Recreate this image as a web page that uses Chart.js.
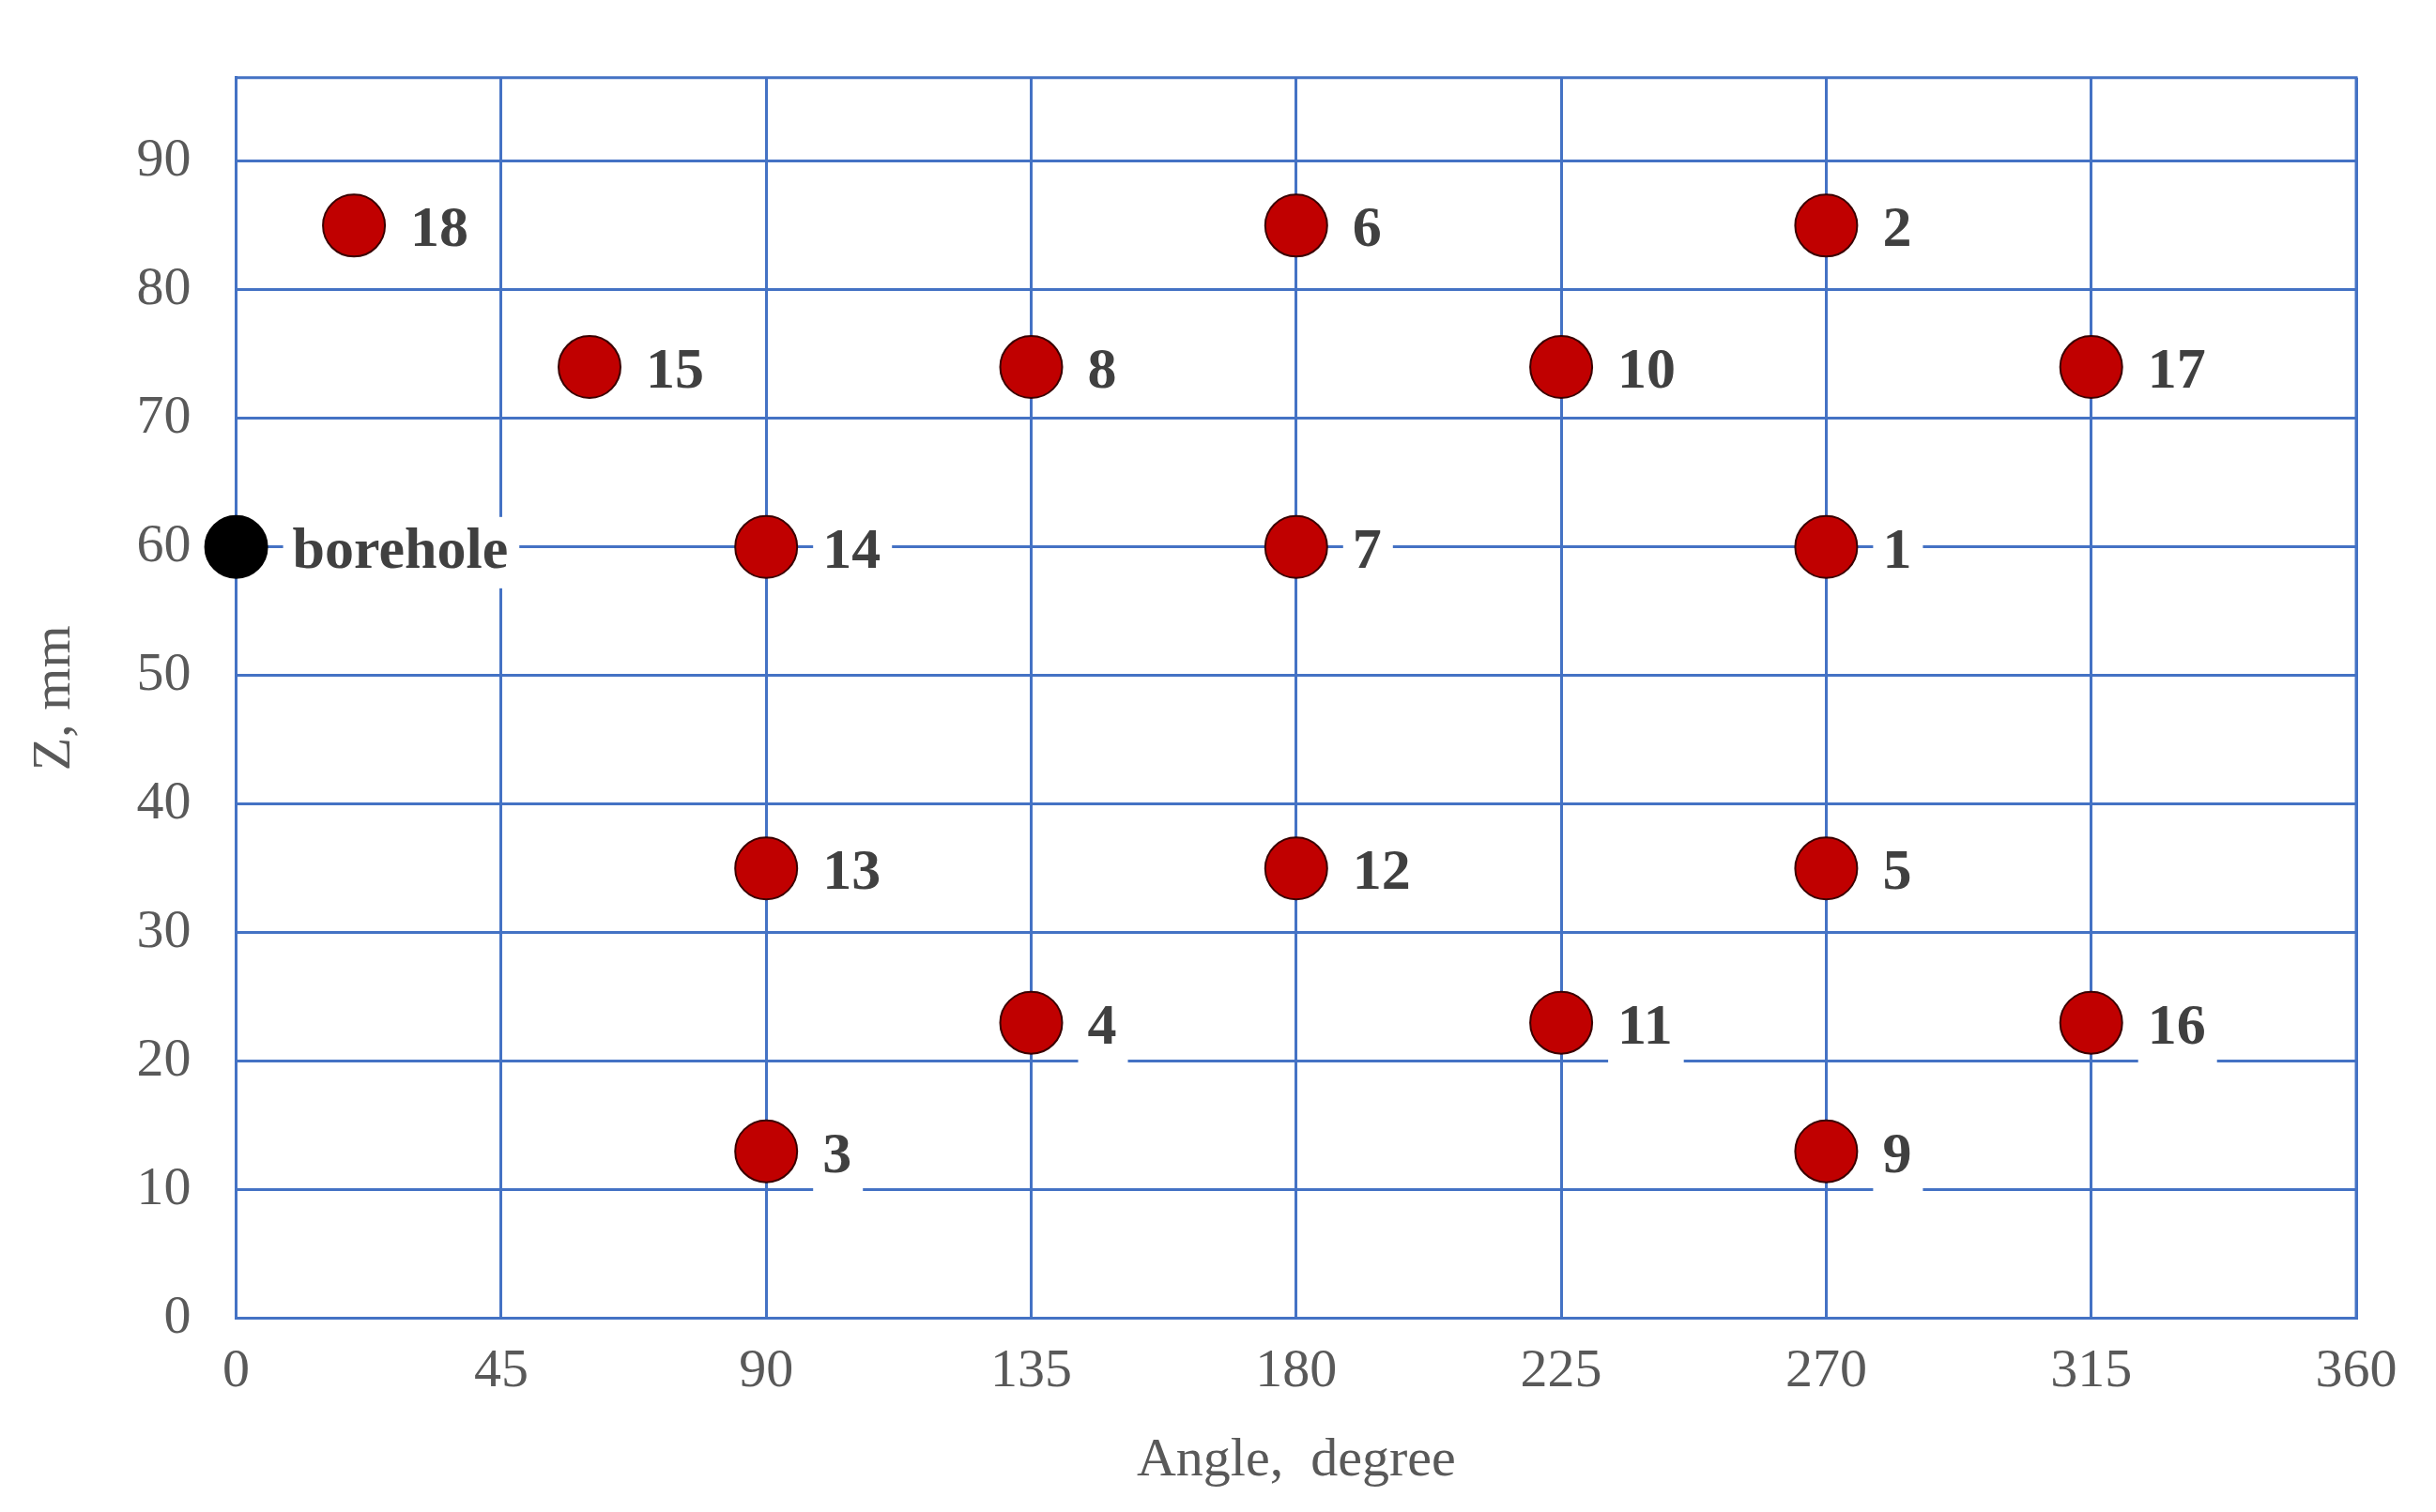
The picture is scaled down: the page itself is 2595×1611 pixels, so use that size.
<!DOCTYPE html>
<html><head><meta charset="utf-8">
<script src="https://cdn.jsdelivr.net/npm/chart.js@4"></script>
<style>html,body{margin:0;padding:0;background:#fff}#w{width:2595px;height:1611px}</style>
</head><body><div id="w"><canvas id="c"></canvas></div>
<script>
const pointLabels = ['18','6','2','15','8','10','17','14','7','1','13','12','5','4','11','16','3','9'];
const angles =      [20,180,270,60,135,225,315,90,180,270,90,180,270,135,225,315,90,270];
const zValues =     [85,85,85,74,74,74,74,60,60,60,35,35,35,23,23,23,13,13];
const boreholeLabel = ['borehole'];
const boreholeAngle = [0];
const boreholeZ = [60];
const xTicks = [0,45,90,135,180,225,270,315,360];
const yTicks = [0,10,20,30,40,50,60,70,80,90];

const labelPlugin = {
  id:'lbl',
  afterDatasetsDraw(chart){
    const ctx = chart.ctx;
    ctx.save();
    ctx.font = 'bold 62px "Liberation Serif"';
    ctx.textBaseline = 'middle';
    chart.data.datasets.forEach((ds,di)=>{
      chart.getDatasetMeta(di).data.forEach((el,i)=>{
        const t = ds.labels[i];
        const x = el.x + 60, y = el.y + 6;
        const w = ctx.measureText(t).width;
        ctx.fillStyle = '#fff';
        ctx.fillRect(x-10, y-38, w+22, 76);
        ctx.fillStyle = '#404040';
        ctx.fillText(t, x, y);
      });
    });
    ctx.restore();
  }
};

const pts = (xs,ys)=>xs.map((x,i)=>({x:x,y:ys[i]}));
new Chart(document.getElementById('c'),{
  type:'scatter',
  data:{datasets:[
    {data:pts(angles,zValues),labels:pointLabels,backgroundColor:'#C00000',borderColor:'#3a0000',borderWidth:2,pointRadius:33,clip:false},
    {data:pts(boreholeAngle,boreholeZ),labels:boreholeLabel,backgroundColor:'#000',borderColor:'#000',borderWidth:2,pointRadius:33,clip:false}
  ]},
  options:{
    responsive:true,maintainAspectRatio:false,devicePixelRatio:1,animation:false,
    layout:{padding:{top:-8,right:85,left:20,bottom:15}},
    plugins:{legend:{display:false},tooltip:{enabled:false}},
    scales:{
      x:{type:'linear',min:0,max:360,
        afterBuildTicks(s){s.ticks=xTicks.map(v=>({value:v}));},
        grid:{color:'#4472C4',lineWidth:3,drawTicks:false},border:{color:'#4472C4',width:3},
        ticks:{padding:22,color:'#595959',font:{family:'Liberation Serif',size:58}},
        title:{display:true,text:'Angle,  degree',color:'#595959',font:{family:'Liberation Serif',size:58},padding:{top:4}}},
      y:{type:'linear',min:0,max:96.5,
        afterBuildTicks(s){s.ticks=yTicks.map(v=>({value:v}));},
        grid:{color:'#4472C4',lineWidth:3,drawTicks:false},border:{color:'#4472C4',width:3},
        ticks:{padding:48,color:'#595959',font:{family:'Liberation Serif',size:58}},
        title:{display:true,text:'Z, mm',color:'#595959',font:{family:'Liberation Serif',size:58},padding:{bottom:4}}}
    }
  },
  plugins:[labelPlugin,{id:'topline',afterDraw(c){const a=c.chartArea,x=c.ctx;x.save();x.strokeStyle='#4472C4';x.lineWidth=3;x.beginPath();x.moveTo(a.left,a.top);x.lineTo(a.right,a.top);x.lineTo(a.right,a.bottom);x.stroke();x.restore();}}]
});
</script></body></html>
